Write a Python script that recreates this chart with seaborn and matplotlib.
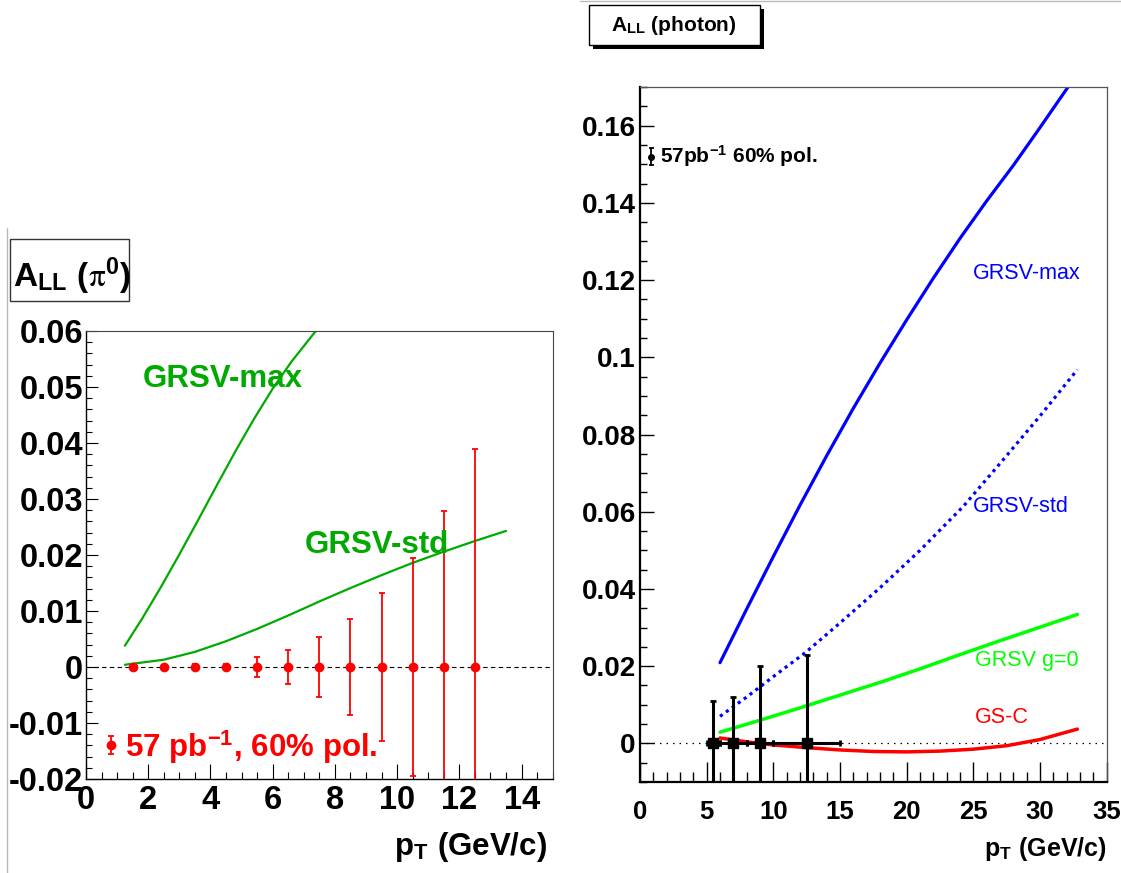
import numpy as np
import pandas as pd
import matplotlib
matplotlib.use("Agg")
import matplotlib.pyplot as plt
import seaborn as sns
from matplotlib import font_manager
from matplotlib.patches import Rectangle
from matplotlib.lines import Line2D
from matplotlib.ticker import MultipleLocator

# ---------------- data: left panel (pi0) ----------------
pi0_pt = [1.5, 2.5, 3.5, 4.5, 5.5, 6.5, 7.5, 8.5, 9.5, 10.5, 11.5, 12.5]
pi0_all = [0, 0, 0, 0, 0, 0, 0, 0, 0, 0, 0, 0]
pi0_err = [0.0003, 0.0003, 0.0005, 0.0006, 0.0017, 0.0031, 0.0053, 0.0085,
           0.0132, 0.0194, 0.0279, 0.0390]

pi0_max_pt = [1.25, 1.8, 2.4, 3.0, 3.6, 4.2, 4.8, 5.4, 6.0, 6.6, 7.2, 7.5]
pi0_max = [0.0038, 0.0086, 0.0142, 0.0201, 0.0262, 0.0324, 0.0385, 0.0443,
           0.0497, 0.0545, 0.0587, 0.0608]

pi0_std_pt = [1.25, 2.5, 3.5, 4.5, 5.5, 6.5, 7.5, 8.5, 9.5, 10.5, 11.5, 12.5, 13.5]
pi0_std = [0.0004, 0.0013, 0.0027, 0.0046, 0.0068, 0.0092, 0.0117, 0.0141,
           0.0164, 0.0186, 0.0206, 0.0225, 0.0243]

pi0_xticks = [0, 2, 4, 6, 8, 10, 12, 14]
pi0_yticks = [-0.02, -0.01, 0, 0.01, 0.02, 0.03, 0.04, 0.05, 0.06]
pi0_yticklabels = ["-0.02", "-0.01", "0", "0.01", "0.02", "0.03", "0.04", "0.05", "0.06"]

# ---------------- data: right panel (photon) ----------------
gam_pt = [5.5, 7.0, 9.0, 12.5]
gam_all = [0, 0, 0, 0]
gam_yerr = [0.011, 0.012, 0.020, 0.023]
gam_xerr = [0.5, 1.0, 1.0, 2.5]

gam_max_pt = [6, 8, 10, 12, 14, 16, 18, 20, 22, 24, 26, 28, 30, 32, 33]
gam_max = [0.0209, 0.0348, 0.0484, 0.0617, 0.0745, 0.0868, 0.0985, 0.1097,
           0.1205, 0.1308, 0.1405, 0.1497, 0.1595, 0.1695, 0.1745]

gam_std_pt = [6, 8, 10, 12.4, 15, 18, 21, 24.25, 27, 30, 32.8]
gam_std = [0.0070, 0.0120, 0.0173, 0.0235, 0.0312, 0.0403, 0.0500, 0.0614,
           0.0725, 0.0848, 0.0968]

gam_g0_pt = [6, 9, 12, 15, 18, 21, 24, 27, 30, 32.8]
gam_g0 = [0.0029, 0.0060, 0.0092, 0.0125, 0.0158, 0.0193, 0.0230, 0.0266,
          0.0301, 0.0334]

gam_gsc_pt = [6, 8, 10, 12.5, 15, 17.5, 20, 22.5, 25, 27.5, 30, 32.8]
gam_gsc = [0.0014, 0.0004, -0.0004, -0.0011, -0.0017, -0.0021, -0.0022,
           -0.0020, -0.0015, -0.0006, 0.0010, 0.0037]

gam_xticks = [0, 5, 10, 15, 20, 25, 30, 35]
gam_yticks = [0, 0.02, 0.04, 0.06, 0.08, 0.1, 0.12, 0.14, 0.16]
gam_yticklabels = ["0", "0.02", "0.04", "0.06", "0.08", "0.1", "0.12", "0.14", "0.16"]

# ---------------- style ----------------
sns.set_theme(style="white")
plt.rcParams["font.family"] = ["Liberation Sans", "DejaVu Sans"]
plt.rcParams["mathtext.fontset"] = "stix"

names = {f.name for f in font_manager.fontManager.ttflist}
if "Liberation Sans Narrow" in names:
    NARROW = "Liberation Sans Narrow"
    LSIZE, TSIZE, TTSIZE = 26.5, 26.5, 31
else:
    NARROW = "Liberation Sans"
    LSIZE, TSIZE, TTSIZE = 22.5, 23.5, 24

W, H = 1121, 873
fig = plt.figure(figsize=(W / 100, H / 100), dpi=100)
fig.patch.set_facecolor("white")


def fx(x):
    return x / W


def fy(y):
    return 1 - y / H


axL = fig.add_axes([fx(86), fy(779), (552.7 - 86) / W, (779 - 331) / H])
axR = fig.add_axes([fx(640), fy(782), (1106.7 - 640) / W, (782 - 87) / H])

GREEN_L = "#00aa00"

# ---------------- left panel ----------------
axL.axhline(0, color="black", lw=0.8, ls=(0, (4, 3)), zorder=1)
sns.lineplot(x=pi0_max_pt, y=pi0_max, ax=axL, color=GREEN_L, lw=1.6, zorder=2)
sns.lineplot(x=pi0_std_pt, y=pi0_std, ax=axL, color=GREEN_L, lw=1.6, zorder=2)
axL.errorbar(pi0_pt, pi0_all, yerr=pi0_err, fmt="o", color="red", ms=6,
             elinewidth=1.3, capsize=2.2, capthick=1.3, zorder=3)
axL.errorbar([0.79], [-0.0139], yerr=[0.00155], fmt="o", color="red", ms=6,
             elinewidth=1.3, capsize=2.2, capthick=1.3, zorder=3)

fpL = dict(family=NARROW, weight="bold", size=LSIZE)
fpT = dict(family=NARROW, weight="bold", size=TSIZE)
axL.text(1.84, 0.050, "GRSV-max", color=GREEN_L, va="baseline", ha="left", **fpL)
axL.text(7.04, 0.0204, "GRSV-std", color=GREEN_L, va="baseline", ha="left", **fpL)
axL.text(1.25, -0.0160, r"57 pb$^{\mathregular{-1}}$, 60% pol.", color="red",
         va="baseline", ha="left", **fpL)

axL.set_xlim(0, 15)
axL.set_ylim(-0.02, 0.06)
axL.set_xticks(pi0_xticks)
axL.set_xticklabels([str(t) for t in pi0_xticks], **fpT)
axL.set_yticks(pi0_yticks)
axL.set_yticklabels(pi0_yticklabels, **fpT)
axL.xaxis.set_minor_locator(MultipleLocator(0.5))
axL.yaxis.set_minor_locator(MultipleLocator(0.002))
axL.tick_params(axis="y", which="major", direction="in", length=8.6, width=0.8,
                pad=2.2, left=True, right=False, colors="black")
axL.tick_params(axis="y", which="minor", direction="in", length=4.3, width=0.8,
                left=True, right=False, colors="black")
axL.tick_params(axis="x", which="major", direction="in", length=10.8, width=0.8,
                pad=4.5, bottom=True, top=False, colors="black")
axL.tick_params(axis="x", which="minor", direction="in", length=5.0, width=0.8,
                bottom=True, top=False, colors="black")
axL.set_xlabel("")
axL.set_ylabel("")
for side in ["left", "bottom"]:
    axL.spines[side].set_color("black")
    axL.spines[side].set_linewidth(1.0)
for side in ["top", "right"]:
    axL.spines[side].set_color("#444444")
    axL.spines[side].set_linewidth(0.8)

# ---------------- right panel ----------------
axR.axhline(0, color="black", lw=0.9, ls=(0, (1.2, 4)), zorder=1)
sns.lineplot(x=gam_max_pt, y=gam_max, ax=axR, color="#0000ff", lw=2.3, zorder=2)
sns.lineplot(x=gam_std_pt, y=gam_std, ax=axR, color="#0000ff", lw=2.3,
             linestyle=(0, (1, 1.3)), zorder=2)
sns.lineplot(x=gam_g0_pt, y=gam_g0, ax=axR, color="#00ff00", lw=2.5, zorder=2)
sns.lineplot(x=gam_gsc_pt, y=gam_gsc, ax=axR, color="#ff0000", lw=2.5, zorder=2)
axR.errorbar(gam_pt, gam_all, yerr=gam_yerr, xerr=gam_xerr, fmt="s", color="black",
             ms=7.5, elinewidth=2.2, capsize=1.9, capthick=2.0, zorder=4)
axR.errorbar([0.8], [0.152], yerr=[0.0022], fmt="o", color="black", ms=4,
             elinewidth=1.3, capsize=1.8, capthick=1.3, zorder=4)

fpRb = dict(family="Liberation Sans", weight="bold")
axR.text(1.5, 0.152, r"57pb$^{\mathregular{-1}}$ 60% pol.", color="black",
         va="center", ha="left", size=15, **fpRb)
fpRl = dict(family="Liberation Sans", weight="normal", size=15.5)
axR.text(25.0, 0.1217, "GRSV-max", color="#0000ff", va="center", ha="left", **fpRl)
axR.text(25.0, 0.0614, "GRSV-std", color="#0000ff", va="center", ha="left", **fpRl)
axR.text(25.1, 0.0214, "GRSV g=0", color="#00ff00", va="center", ha="left", **fpRl)
axR.text(25.1, 0.0068, "GS-C", color="#ff0000", va="center", ha="left", **fpRl)

axR.set_xlim(0, 35)
axR.set_ylim(-0.01, 0.17)
axR.set_xticks(gam_xticks)
axR.set_xticklabels([str(t) for t in gam_xticks], size=18.5, **fpRb)
axR.set_yticks(gam_yticks)
axR.set_yticklabels(gam_yticklabels, size=20, **fpRb)
axR.xaxis.set_minor_locator(MultipleLocator(1))
axR.yaxis.set_minor_locator(MultipleLocator(0.005))
axR.tick_params(axis="y", which="major", direction="in", length=10, width=1.0,
                pad=3, left=True, right=False, colors="black")
axR.tick_params(axis="y", which="minor", direction="in", length=5, width=1.0,
                left=True, right=False, colors="black")
axR.tick_params(axis="x", which="major", direction="in", length=14.4, width=1.0,
                pad=13, bottom=True, top=False, colors="black")
axR.tick_params(axis="x", which="minor", direction="in", length=7.2, width=1.0,
                bottom=True, top=False, colors="black")
axR.set_xlabel("")
axR.set_ylabel("")
for side in ["left", "bottom"]:
    axR.spines[side].set_color("black")
    axR.spines[side].set_linewidth(1.6)
for side in ["top", "right"]:
    axR.spines[side].set_color("#555555")
    axR.spines[side].set_linewidth(0.9)

# ---------------- figure-level decorations ----------------
fig.add_artist(Line2D([fx(7), fx(7)], [0, fy(228)], transform=fig.transFigure,
                      color="#bbbbbb", lw=1.0))
fig.add_artist(Line2D([fx(580), 1], [fy(1), fy(1)], transform=fig.transFigure,
                      color="#bbbbbb", lw=1.0))

# left title box
fig.add_artist(Rectangle((fx(10), fy(300.7)), 119 / W, 61.7 / H,
                         transform=fig.transFigure, facecolor="white",
                         edgecolor="#333333", lw=1.0))
fig.text(fx(13), fy(286), r"A$_{\mathregular{LL}}$ $\mathregular{(}\mathrm{\pi}^{\mathregular{0}}\mathregular{)}$",
         ha="left", va="baseline", family=NARROW, weight="bold", size=TTSIZE,
         color="black")

# right title box with shadow
fig.add_artist(Rectangle((fx(593), fy(49)), 171 / W, 40 / H,
                         transform=fig.transFigure, facecolor="black",
                         edgecolor="black", lw=0))
fig.add_artist(Rectangle((fx(589), fy(45)), 171 / W, 40 / H,
                         transform=fig.transFigure, facecolor="white",
                         edgecolor="black", lw=1.0))
fig.text(fx(611), fy(31), r"A$_{\mathregular{LL}}$ (photon)", ha="left",
         va="baseline", size=15, color="black", **fpRb)

# axis titles
fig.text(fx(547), fy(855), r"p$_{\mathregular{T}}$ (GeV/c)", ha="right",
         va="baseline", color="black", **fpL)
fig.text(fx(1106.7), fy(856), r"p$_{\mathregular{T}}$ (GeV/c)", ha="right",
         va="baseline", size=18, color="black", **fpRb)

fig.savefig("out.png", dpi=100, facecolor="white")
